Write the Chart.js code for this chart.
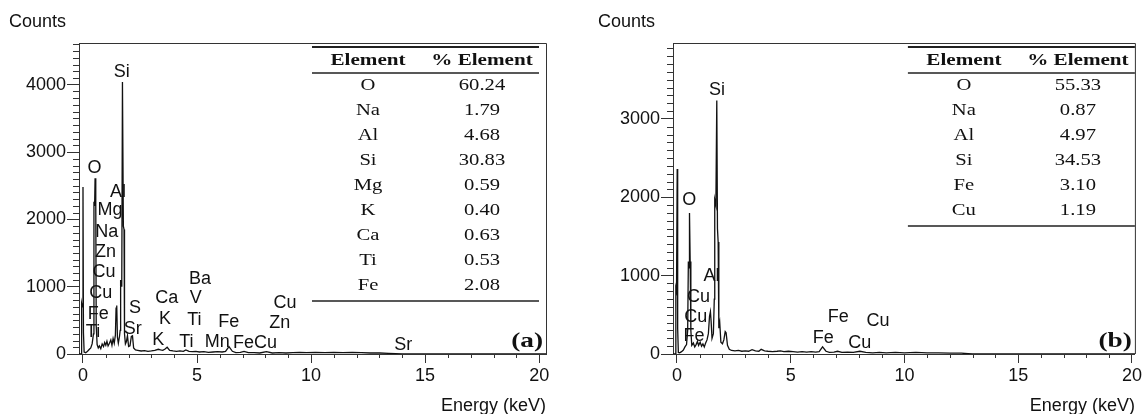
<!DOCTYPE html>
<html>
<head>
<meta charset="utf-8">
<script src="https://cdn.jsdelivr.net/npm/chart.js@4.4.1/dist/chart.umd.min.js"></script>
<style>
  html, body { margin: 0; padding: 0; background: #fff; }
  #wrap { position: relative; width: 1144px; height: 414px; overflow: hidden; }
  canvas { position: absolute; top: 0; }
</style>
</head>
<body>
<div id="wrap">
  <canvas id="chartA" width="572" height="414" style="left:0"></canvas>
  <canvas id="chartB" width="572" height="414" style="left:572px"></canvas>
</div>
<script>
// ---- spectrum (a) ----
const energyA = [
  -0.18, -0.08, -0.06, -0.03, 0.00, 0.02, 0.05, 0.12, 0.20, 0.28,
  0.34, 0.40, 0.46, 0.48, 0.51, 0.53, 0.56, 0.58, 0.62, 0.67,
  0.72, 0.78, 0.84, 0.90, 0.95, 1.00, 1.05, 1.10, 1.16, 1.22,
  1.27, 1.32, 1.37, 1.42, 1.45, 1.48, 1.51, 1.55, 1.60, 1.63,
  1.65, 1.70, 1.73, 1.77, 1.80, 1.82, 1.86, 1.90, 1.95, 2.00,
  2.06, 2.12, 2.17, 2.22, 2.30, 2.40, 2.55, 2.70, 2.85, 3.00,
  3.15, 3.30, 3.40, 3.50, 3.60, 3.69, 3.80, 3.95, 4.10, 4.25,
  4.40, 4.51, 4.65, 4.80, 4.95, 5.10, 5.30, 5.50, 5.70, 5.90,
  6.10, 6.25, 6.40, 6.55, 6.70, 6.90, 7.06, 7.25, 7.50, 7.75,
  8.04, 8.30, 8.60, 8.90, 9.20, 9.50, 9.80, 10.2, 10.6, 11.0,
  11.4, 11.8, 12.2, 12.6, 13.0, 13.4, 13.7, 14.0, 17.0, 20.3
];
const countsA = [
  0, 0, 750, 700, 2480, 320, 30, 20, 40, 70,
  90, 150, 300, 2260, 2200, 2610, 2250, 420, 140, 90,
  120, 80, 150, 110, 170, 130, 190, 120, 160, 210,
  130, 230, 160, 280, 680, 720, 250, 160, 260, 350,
  1100, 1000, 4040, 1900, 1850, 300, 150, 180, 270, 110,
  120, 260, 270, 90, 60, 55, 45, 50, 40, 45,
  55, 70, 60, 55, 75, 100, 55, 45, 40, 45,
  40, 60, 40, 35, 40, 30, 35, 25, 30, 35,
  30, 40, 110, 40, 20, 25, 40, 20, 20, 15,
  35, 15, 20, 15, 20, 25, 20, 25, 20, 25,
  20, 25, 20, 15, 15, 10, 5, 0, 0, 0
];
// peak labels: [text, keV, counts]
const peakLabelsA = [
  ['Si', 1.70, 4190], ['O', 0.50, 2770], ['Al', 1.53, 2410], ['Mg', 1.18, 2136],
  ['Na', 1.04, 1815], ['Zn', 0.99, 1518], ['Cu', 0.92, 1221], ['Cu', 0.78, 900],
  ['Fe', 0.67, 589], ['Ti', 0.44, 331], ['S', 2.28, 678], ['Sr', 2.18, 371],
  ['Ca', 3.67, 826], ['K', 3.60, 515], ['K', 3.30, 212], ['Ba', 5.13, 1108],
  ['V', 4.94, 826], ['Ti', 4.88, 504], ['Ti', 4.53, 183], ['Fe', 6.39, 470],
  ['Mn', 5.89, 172], ['FeCu', 7.54, 159], ['Cu', 8.86, 761], ['Zn', 8.63, 455],
  ['Sr', 14.04, 134]
];
const tableElementsA = ['O', 'Na', 'Al', 'Si', 'Mg', 'K', 'Ca', 'Ti', 'Fe'];
const tablePercentA = ['60.24', '1.79', '4.68', '30.83', '0.59', '0.40', '0.63', '0.53', '2.08'];
const yTicksA = [0, 1000, 2000, 3000, 4000];

// ---- spectrum (b) ----
const energyB = [
  -0.18, -0.08, -0.05, -0.02, 0.01, 0.03, 0.06, 0.12, 0.20, 0.28,
  0.35, 0.42, 0.47, 0.50, 0.53, 0.55, 0.58, 0.61, 0.65, 0.72,
  0.78, 0.84, 0.90, 0.95, 1.02, 1.08, 1.14, 1.20, 1.26, 1.32,
  1.38, 1.43, 1.47, 1.50, 1.54, 1.60, 1.64, 1.66, 1.71, 1.75,
  1.78, 1.81, 1.84, 1.88, 1.93, 2.00, 2.06, 2.12, 2.16, 2.22,
  2.30, 2.40, 2.55, 2.70, 2.85, 3.00, 3.15, 3.30, 3.45, 3.60,
  3.70, 3.85, 4.00, 4.20, 4.40, 4.55, 4.70, 4.90, 5.10, 5.30,
  5.50, 5.70, 5.90, 6.10, 6.25, 6.40, 6.55, 6.70, 6.90, 7.06,
  7.25, 7.50, 7.75, 8.04, 8.30, 8.60, 8.90, 9.20, 9.60, 10.0,
  10.5, 11.0, 11.5, 12.0, 12.5, 12.8, 13.0, 20.2
];
const countsB = [
  0, 0, 840, 800, 2360, 330, 20, 15, 30, 50,
  90, 120, 300, 1180, 1100, 1800, 1180, 300, 110, 140,
  90, 120, 160, 110, 150, 100, 130, 90, 140, 180,
  260, 480, 540, 420, 200, 260, 700, 1970, 1900, 3235,
  1600, 1430, 330, 400, 150, 130, 180, 285, 270, 110,
  60, 45, 40, 45, 35, 40, 35, 55, 40, 35,
  60, 40, 35, 30, 35, 40, 30, 35, 30, 25,
  30, 25, 30, 25, 30, 90, 35, 20, 25, 35,
  20, 25, 20, 35, 20, 15, 20, 15, 20, 15,
  20, 15, 15, 10, 10, 5, 0, 0
];
const peakLabelsB = [
  ['Si', 1.76, 3372], ['O', 0.54, 1967], ['Al', 1.52, 996], ['Cu', 0.95, 732],
  ['Cu', 0.83, 476], ['Fe', 0.75, 230], ['Fe', 7.09, 469], ['Fe', 6.43, 200],
  ['Cu', 8.04, 136], ['Cu', 8.84, 421]
];
const tableElementsB = ['O', 'Na', 'Al', 'Si', 'Fe', 'Cu'];
const tablePercentB = ['55.33', '0.87', '4.97', '34.53', '3.10', '1.19'];
const yTicksB = [0, 1000, 2000, 3000];

const xTicks = [0, 5, 10, 15, 20];

Chart.defaults.font.family = 'Arial, "Liberation Sans", sans-serif';
Chart.defaults.color = '#111';

function stretchText(ctx, txt, x, y, sx) {
  ctx.save();
  ctx.translate(x, y);
  ctx.scale(sx, 1);
  ctx.fillText(txt, 0, 0);
  ctx.restore();
}

function edsExtras(cfg) {
  return {
    id: 'edsExtras',
    afterDraw(chart) {
      const ctx = chart.ctx, a = chart.chartArea;
      const xs = chart.scales.x, ys = chart.scales.y;
      ctx.save();
      ctx.strokeStyle = '#333';
      ctx.lineWidth = 1;

      // top + right frame
      ctx.beginPath();
      ctx.moveTo(a.left, a.top + 0.5);
      ctx.lineTo(a.right + 0.5, a.top + 0.5);
      ctx.lineTo(a.right + 0.5, a.bottom);
      ctx.stroke();

      // minor ticks
      ctx.beginPath();
      for (let v = 100; v < ys.max; v += 100) {
        if (v % 1000 === 0) continue;
        const py = Math.round(ys.getPixelForValue(v)) + 0.5;
        ctx.moveTo(a.left - 6, py);
        ctx.lineTo(a.left, py);
      }
      for (let e = 1; e < 20; e++) {
        if (e % 5 === 0) continue;
        const px = Math.round(xs.getPixelForValue(e)) + 0.5;
        ctx.moveTo(px, a.bottom);
        ctx.lineTo(px, a.bottom + 4);
      }
      ctx.stroke();

      // peak labels
      ctx.fillStyle = '#111';
      ctx.font = '18px Arial, "Liberation Sans", sans-serif';
      ctx.textAlign = 'center';
      ctx.textBaseline = 'middle';
      cfg.peaks.forEach(p => {
        ctx.fillText(p[0], xs.getPixelForValue(p[1]), ys.getPixelForValue(p[2]));
      });

      // axis names
      ctx.textAlign = 'left';
      ctx.fillText('Counts', cfg.countsX, 22);
      ctx.textAlign = 'right';
      ctx.fillText('Energy (keV)', a.right, 406);

      // element table
      const w = 227;
      const x0 = a.right - cfg.tableInset - w;
      const colA = x0 + 56, colB = x0 + 170;
      ctx.strokeStyle = '#222';
      ctx.lineWidth = 1.8;
      ctx.beginPath();
      ctx.moveTo(x0, a.top + 4); ctx.lineTo(x0 + w, a.top + 4);
      ctx.stroke();
      ctx.lineWidth = 1.4;
      ctx.beginPath();
      ctx.moveTo(x0, a.top + 30); ctx.lineTo(x0 + w, a.top + 30);
      const lastY = a.top + 43 + (cfg.elements.length - 1) * 25;
      ctx.moveTo(x0, lastY + 15); ctx.lineTo(x0 + w, lastY + 15);
      ctx.stroke();

      ctx.textAlign = 'center';
      ctx.font = 'bold 16px "Liberation Serif", "Times New Roman", serif';
      stretchText(ctx, 'Element', colA, a.top + 18, 1.32);
      stretchText(ctx, '% Element', colB, a.top + 18, 1.32);
      ctx.font = '16.5px "Liberation Serif", "Times New Roman", serif';
      cfg.elements.forEach((el, i) => {
        const y = a.top + 43 + i * 25;
        stretchText(ctx, el, colA, y, 1.25);
        stretchText(ctx, cfg.percents[i], colB, y, 1.25);
      });

      // panel tag
      ctx.textAlign = 'right';
      ctx.textBaseline = 'alphabetic';
      ctx.font = 'bold 21px "Liberation Serif", "Times New Roman", serif';
      ctx.save();
      ctx.translate(a.right - 3, a.bottom - 7);
      ctx.scale(1.3, 1);
      ctx.fillText(cfg.tag, 0, 0);
      ctx.restore();

      ctx.restore();
    }
  };
}

function makeChart(id, cfg) {
  const pts = cfg.energy.map((e, i) => ({ x: e, y: cfg.counts[i] }));
  return new Chart(document.getElementById(id), {
    type: 'line',
    data: {
      datasets: [{
        data: pts,
        borderColor: '#111',
        borderWidth: 1.3,
        pointRadius: 0,
        tension: 0,
        fill: false
      }]
    },
    options: {
      responsive: false,
      animation: false,
      events: [],
      layout: { padding: { top: 43, right: cfg.padRight, bottom: 0, left: 0 } },
      plugins: { legend: { display: false }, tooltip: { enabled: false } },
      scales: {
        x: {
          type: 'linear',
          min: -0.175,
          max: cfg.xMax,
          afterBuildTicks: s => { s.ticks = xTicks.map(v => ({ value: v })); },
          afterFit: s => { s.height = 60; },
          ticks: {
            font: { size: 18 },
            color: '#111',
            padding: 2,
            maxRotation: 0,
            autoSkip: false,
            callback: v => String(v)
          },
          grid: { drawOnChartArea: false, drawTicks: true, tickLength: 9, color: '#333' },
          border: { display: true, color: '#333', width: 1 }
        },
        y: {
          type: 'linear',
          min: 0,
          max: cfg.yMax,
          afterBuildTicks: s => { s.ticks = cfg.yTicks.map(v => ({ value: v })); },
          afterFit: s => { s.width = cfg.axisWidth; },
          ticks: {
            font: { size: 18 },
            color: '#111',
            padding: 1,
            autoSkip: false,
            callback: v => String(v)
          },
          grid: { drawOnChartArea: false, drawTicks: true, tickLength: 12, color: '#333' },
          border: { display: true, color: '#333', width: 1 }
        }
      }
    },
    plugins: [edsExtras(cfg)]
  });
}

makeChart('chartA', {
  energy: energyA, counts: countsA, peaks: peakLabelsA,
  elements: tableElementsA, percents: tablePercentA, yTicks: yTicksA,
  yMax: 4620, xMax: 20.3, axisWidth: 79, padRight: 26,
  tableInset: 7, countsX: 9, tag: '(a)'
});

makeChart('chartB', {
  energy: energyB, counts: countsB, peaks: peakLabelsB,
  elements: tableElementsB, percents: tablePercentB, yTicks: yTicksB,
  yMax: 3970, xMax: 20.13, axisWidth: 101, padRight: 8,
  tableInset: 0, countsX: 26, tag: '(b)'
});
</script>
</body>
</html>
